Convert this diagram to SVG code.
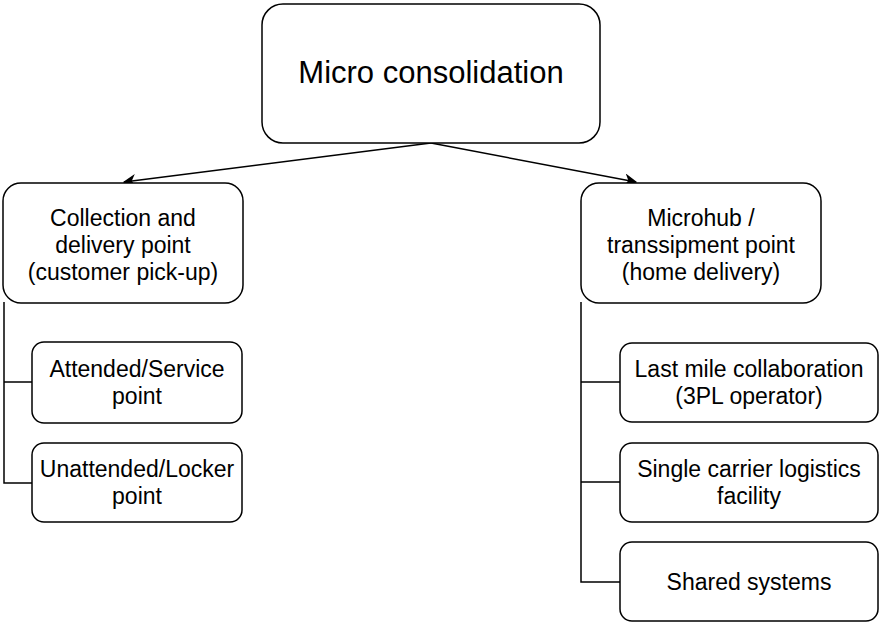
<svg xmlns="http://www.w3.org/2000/svg" width="881" height="623" viewBox="0 0 881 623">
<style>
.box{fill:#fff;stroke:#000;stroke-width:1.5}
.t{font-family:"Liberation Sans",Arial,sans-serif;font-size:23px;fill:#000;text-anchor:middle}
.big{font-size:31px}
.c{fill:none;stroke:#000;stroke-width:1.5}
</style>
<defs>
<marker id="arr" viewBox="0 0 10 10" refX="9" refY="5" markerWidth="13" markerHeight="13" markerUnits="userSpaceOnUse" orient="auto">
<path d="M0,0 L10,5 L0,10 L3,5 Z" fill="#000"/>
</marker>
</defs>
<g id="connectors">
<line class="c" x1="431" y1="143" x2="124" y2="182" marker-end="url(#arr)"/>
<line class="c" x1="431" y1="143" x2="636" y2="182" marker-end="url(#arr)"/>
<path class="c" d="M4,302 V483 H32 M4,382 H32"/>
<path class="c" d="M581,302 V582 H620 M581,382 H620 M581,482 H620"/>
</g>
<g id="root">
<rect class="box" x="262" y="4" width="338" height="139" rx="21"/>
<text class="t big" x="431" y="83">Micro consolidation</text>
</g>
<g id="cdp">
<rect class="box" x="3" y="183" width="240" height="120" rx="18"/>
<text class="t" x="123" y="226">Collection and</text>
<text class="t" x="123" y="253">delivery point</text>
<text class="t" x="123" y="280">(customer pick-up)</text>
</g>
<g id="microhub">
<rect class="box" x="581" y="183" width="240" height="120" rx="18"/>
<text class="t" x="701" y="226">Microhub /</text>
<text class="t" x="701" y="253">transsipment point</text>
<text class="t" x="701" y="280">(home delivery)</text>
</g>
<g id="attended">
<rect class="box" x="32" y="342" width="210" height="81" rx="12"/>
<text class="t" x="137" y="377">Attended/Service</text>
<text class="t" x="137" y="404">point</text>
</g>
<g id="unattended">
<rect class="box" x="32" y="443" width="210" height="79" rx="12"/>
<text class="t" x="137" y="477">Unattended/Locker</text>
<text class="t" x="137" y="504">point</text>
</g>
<g id="lastmile">
<rect class="box" x="620" y="343" width="258" height="79" rx="12"/>
<text class="t" x="749" y="377">Last mile collaboration</text>
<text class="t" x="749" y="404">(3PL operator)</text>
</g>
<g id="single">
<rect class="box" x="620" y="443" width="258" height="79" rx="12"/>
<text class="t" x="749" y="477">Single carrier logistics</text>
<text class="t" x="749" y="504">facility</text>
</g>
<g id="shared">
<rect class="box" x="620" y="542" width="258" height="79" rx="12"/>
<text class="t" x="749" y="590">Shared systems</text>
</g>
</svg>
